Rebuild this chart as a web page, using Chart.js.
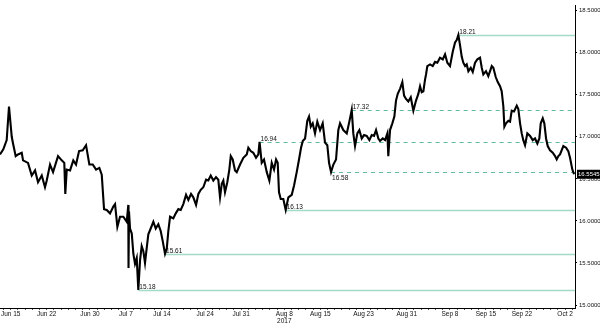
<!DOCTYPE html>
<html>
<head>
<meta charset="utf-8">
<script src="https://cdn.jsdelivr.net/npm/chart.js@4/dist/chart.umd.min.js"></script>
<style>
html,body{margin:0;padding:0;background:#fff;}
#wrap{width:600px;height:323px;}
</style>
</head>
<body>
<div id="wrap"><canvas id="c" width="600" height="323"></canvas></div>
<script>
// trading-day position (0 = Jun 15, 2017) and rate
const days = [
-1.49,-1.03,-0.56,-0.24,0.14,0.32,0.69,1.01,1.53,1.71,2.40,2.92,3.38,3.79,4.31,4.76,5.00,5.46,5.88,6.57,
7.08,7.44,7.58,7.78,8.24,8.69,9.07,9.49,10.00,10.46,10.92,11.39,11.85,12.31,12.64,12.96,13.33,13.79,14.25,14.49,
14.81,15.18,15.64,16.11,16.33,16.36,16.43,16.57,16.81,17.03,17.26,17.50,17.72,17.96,18.19,18.42,18.65,18.89,19.11,19.44,
19.81,20.14,20.50,20.83,21.11,21.43,21.67,21.89,22.13,22.58,22.92,23.28,23.61,23.97,24.35,24.67,25.04,25.36,25.74,26.06,
26.39,26.75,27.13,27.44,27.78,28.14,28.51,28.83,29.07,29.31,29.53,29.76,30.08,30.36,30.56,30.83,31.15,31.39,31.85,32.31,
32.78,33.00,33.33,33.69,34.07,34.39,34.56,34.86,35.18,35.56,35.92,36.25,36.57,36.85,37.08,37.26,37.50,37.86,38.19,38.56,
39.03,39.35,39.72,40.04,40.32,40.56,40.88,41.19,41.43,41.67,41.94,42.26,42.58,42.96,43.33,43.65,43.97,44.21,44.49,44.81,
45.18,45.50,45.74,46.19,46.67,47.03,47.36,47.58,47.82,48.14,48.42,48.75,49.07,49.44,49.81,50.14,50.46,50.74,51.06,51.29,
51.67,51.99,52.31,52.44,52.68,53.00,53.28,53.51,53.75,54.07,54.39,54.63,54.90,55.22,55.56,55.92,56.29,56.61,56.85,57.08,
57.31,57.54,57.68,57.86,58.24,58.61,58.93,59.25,59.62,60.00,60.32,60.64,61.01,61.39,61.71,61.94,62.17,62.40,62.64,62.86,
63.10,63.33,63.56,63.89,64.17,64.49,64.81,65.18,65.42,65.64,66.01,66.33,66.57,66.81,67.03,67.36,67.64,67.96,68.19,68.42,
68.56,68.79,69.11,69.35,69.58,69.90,70.28,70.50,70.74,70.97,71.19,71.43,71.75,72.13,72.50,72.82,73.14,73.42,73.61,73.89,
74.11,74.35,74.58,74.90,75.28,75.60,75.83,76.06,76.29,76.75,77.13,77.44,77.68,78.00,78.24
];
const rates = [
16.79,16.85,16.96,17.36,17.00,16.92,16.77,16.79,16.81,16.72,16.69,16.54,16.60,16.46,16.54,16.40,16.48,16.67,16.58,16.77,
16.72,16.69,16.32,16.61,16.60,16.72,16.67,16.83,16.84,16.90,16.67,16.67,16.61,16.63,16.55,16.14,16.13,16.09,16.17,16.20,
15.93,16.05,16.05,15.99,16.19,15.44,16.11,15.91,15.85,15.61,15.49,15.56,15.18,15.53,15.70,15.64,15.50,15.68,15.84,15.91,
15.99,15.91,15.96,15.88,15.76,15.61,15.67,15.88,16.05,16.03,16.09,16.14,16.13,16.20,16.31,16.25,16.32,16.28,16.19,16.32,
16.37,16.40,16.49,16.48,16.54,16.48,16.52,16.49,16.28,16.44,16.48,16.34,16.46,16.61,16.77,16.73,16.60,16.58,16.67,16.75,
16.79,16.87,16.83,16.81,16.75,16.79,16.94,16.69,16.73,16.58,16.48,16.69,16.61,16.73,16.69,16.34,16.26,16.26,16.13,16.28,
16.31,16.42,16.58,16.73,16.87,16.95,16.98,17.19,17.24,17.12,17.16,17.04,17.18,17.08,17.16,16.93,16.90,16.69,16.58,16.67,
16.73,17.08,17.16,17.08,17.04,17.18,17.32,17.04,16.89,17.04,17.08,16.98,17.02,17.01,16.96,17.02,17.01,17.08,16.98,16.95,
16.98,16.96,17.04,16.77,17.08,17.16,17.24,17.43,17.51,17.57,17.65,17.49,17.45,17.42,17.47,17.31,17.43,17.51,17.60,17.53,
17.54,17.68,17.74,17.84,17.86,17.84,17.89,17.88,17.94,17.92,17.98,17.88,17.84,18.01,18.12,18.15,18.21,18.09,17.95,17.88,
17.84,17.86,17.78,17.82,17.77,17.88,17.92,17.94,17.82,17.74,17.78,17.72,17.78,17.84,17.82,17.71,17.65,17.60,17.54,17.36,
17.12,17.16,17.19,17.18,17.31,17.30,17.37,17.33,17.16,17.04,16.96,16.90,17.04,17.01,16.96,16.98,16.92,16.98,17.16,17.22,
17.16,16.98,16.89,16.84,16.81,16.77,16.73,16.77,16.79,16.89,16.87,16.83,16.75,16.61,16.5545
];
const tickDays = [0,5,11,16,21,27,32,38,43,49,55,61,66,71,77];
const tickLabels = ['Jun 15','Jun 22','Jun 30','Jul 7','Jul 14','Jul 24','Jul 31','Aug 8','Aug 15','Aug 23','Aug 31','Sep 8','Sep 15','Sep 22','Oct 2'];
const yearLabel = '2017';
const yearTickDay = 38;
const yTicks = [15.0,15.5,16.0,16.5,17.0,17.5,18.0,18.5];
const levelValues = [18.21,17.32,16.94,16.58,16.13,15.61,15.18];
const levelStartDays = [62.17,47.36,34.56,44.49,38.19,21.43,17.72];
const lastValue = 16.5545;

const FONT = '"Liberation Sans", Arial, sans-serif';

const levelPlugin = {
  id: 'levels',
  beforeDatasetsDraw(chart, args, opts) {
    const {ctx, chartArea} = chart;
    const xs = chart.scales.x, ys = chart.scales.y;
    ctx.save();
    levelValues.forEach((lv, i) => {
      const x0 = xs.getPixelForValue(levelStartDays[i]);
      const y = Math.round(ys.getPixelForValue(lv)) + 0.5;
      const dashed = opts.dashed.includes(lv);
      ctx.beginPath();
      ctx.setLineDash(dashed ? [4, 4] : []);
      ctx.strokeStyle = dashed ? 'rgb(95,185,160)' : 'rgb(165,218,203)';
      ctx.lineWidth = dashed ? 1 : 1.5;
      ctx.moveTo(x0, y);
      ctx.lineTo(chartArea.right, y);
      ctx.stroke();
      ctx.setLineDash([]);
      ctx.fillStyle = '#111';
      ctx.font = '6.5px ' + FONT;
      ctx.textAlign = 'left';
      if (opts.below.includes(lv)) {
        ctx.textBaseline = 'top';
        ctx.fillText(lv.toFixed(2), x0 + 1, y + 2);
      } else {
        ctx.textBaseline = 'bottom';
        ctx.fillText(lv.toFixed(2), x0 + 1, y - 0.5);
      }
    });
    ctx.restore();
  },
  afterDraw(chart) {
    const {ctx, chartArea} = chart;
    const y = chart.scales.y.getPixelForValue(lastValue);
    ctx.save();
    ctx.fillStyle = '#000';
    ctx.fillRect(chartArea.right + 2, y - 4.5, 23, 9);
    ctx.fillStyle = '#fff';
    ctx.font = '6px ' + FONT;
    ctx.textAlign = 'left';
    ctx.textBaseline = 'middle';
    ctx.fillText(lastValue.toFixed(4), chartArea.right + 3, y + 0.5);
    ctx.restore();
  }
};

new Chart(document.getElementById('c'), {
  type: 'line',
  data: {
    datasets: [{
      data: days.map((d, i) => ({x: d, y: rates[i]})),
      borderColor: '#000',
      borderWidth: 2.1,
      pointRadius: 0,
      tension: 0,
      fill: false
    }]
  },
  options: {
    responsive: false,
    animation: false,
    layout: {padding: 0},
    plugins: {
      legend: {display: false},
      tooltip: {enabled: false},
      levels: {dashed: [17.32, 16.94, 16.58], below: [16.58]}
    },
    scales: {
      x: {
        type: 'linear',
        min: -1.49,
        max: 78.37,
        afterBuildTicks(scale) {
          const t = [];
          for (let d = -1; d <= 78; d++) t.push({value: d});
          scale.ticks = t;
        },
        afterFit(scale) { scale.height = 15; },
        grid: {display: true, drawOnChartArea: false, drawTicks: true, tickLength: 2, color: '#555', lineWidth: 1},
        border: {display: true, color: '#000', width: 1},
        ticks: {
          autoSkip: false,
          maxRotation: 0,
          padding: 1,
          color: '#111',
          font: {family: FONT, size: 6.5, lineHeight: 1.05},
          callback(v) {
            const i = tickDays.indexOf(v);
            if (i < 0) return '';
            return v === yearTickDay ? [tickLabels[i], yearLabel] : tickLabels[i];
          }
        }
      },
      y: {
        position: 'right',
        min: 14.965,
        max: 18.559,
        afterBuildTicks(scale) { scale.ticks = yTicks.map(v => ({value: v})); },
        afterFit(scale) { scale.width = 25; },
        grid: {display: true, drawOnChartArea: false, drawTicks: true, tickLength: 2, color: '#000'},
        border: {display: true, color: '#000', width: 1},
        ticks: {
          padding: 2,
          color: '#111',
          font: {family: FONT, size: 6},
          callback(v) { return Number(v).toFixed(4); }
        }
      }
    }
  },
  plugins: [levelPlugin]
});
</script>
</body>
</html>
